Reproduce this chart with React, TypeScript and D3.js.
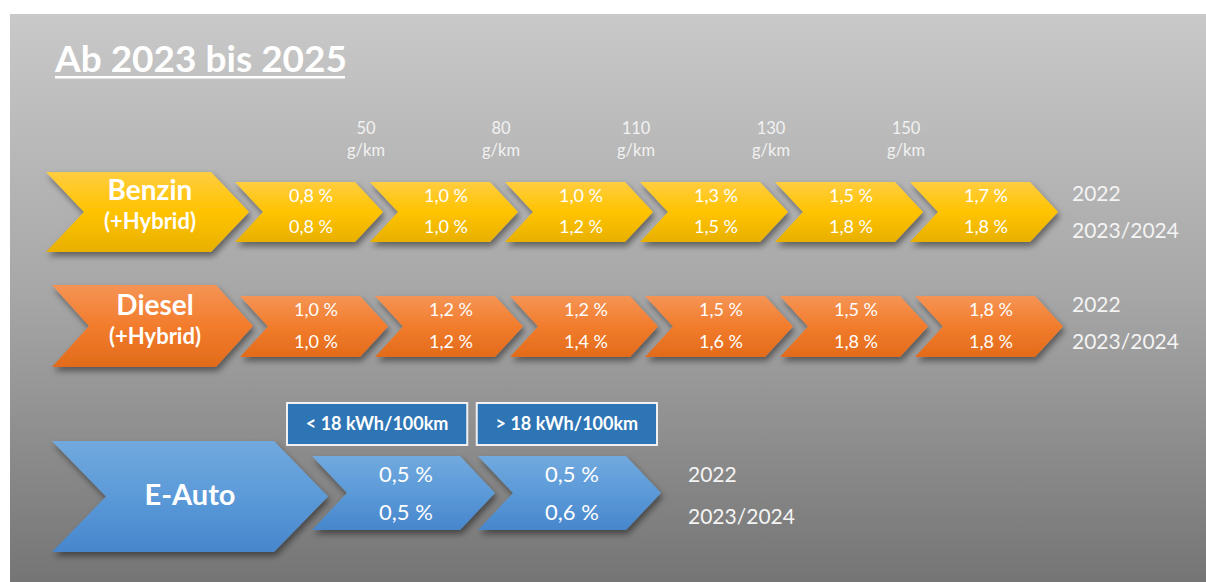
import React from 'react';
import * as d3 from 'd3';

const title = 'Ab 2023 bis 2025';
const years = ['2022', '2023/2024'];
const co2Thresholds = ['50', '80', '110', '130', '150'];
const benzin2022 = [0.8, 1.0, 1.0, 1.3, 1.5, 1.7];
const benzin2023 = [0.8, 1.0, 1.2, 1.5, 1.8, 1.8];
const diesel2022 = [1.0, 1.2, 1.2, 1.5, 1.5, 1.8];
const diesel2023 = [1.0, 1.2, 1.4, 1.6, 1.8, 1.8];
const eCategories = ['< 18 kWh/100km', '> 18 kWh/100km'];
const eAuto2022 = [0.5, 0.5];
const eAuto2023 = [0.5, 0.6];

const FONT = 'Lato, "Open Sans", sans-serif';

// German number format: 0,8 %
const de = d3.formatLocale({ decimal: ',', thousands: '.', grouping: [3], currency: ['', ' €'] });
const fmt = (v: number) => de.format('.1f')(v) + ' %';

function chevron(x: number, y: number, w: number, h: number, t: number) {
  const p = d3.path();
  p.moveTo(x, y);
  p.lineTo(x + w - t, y);
  p.lineTo(x + w, y + h / 2);
  p.lineTo(x + w - t, y + h);
  p.lineTo(x, y + h);
  p.lineTo(x + t, y + h / 2);
  p.closePath();
  return p.toString();
}

type RowProps = {
  grad: string;
  big: { x: number; y: number; w: number; h: number; t: number };
  labels: { text: string; size: number; y: number }[];
  labelX: number;
  x: d3.ScaleLinear<number, number>;
  small: { y: number; w: number; h: number; t: number; dx: number; size: number };
  top: number[];
  bottom: number[];
  valueY: [number, number];
  yearX: number;
  yearY: [number, number];
};

function Row({ grad, big, labels, labelX, x, small, top, bottom, valueY, yearX, yearY }: RowProps) {
  return (
    <g>
      {top.map((v, i) => (
        <path
          key={'c' + i}
          d={chevron(x(i), small.y, small.w, small.h, small.t)}
          fill={`url(#${grad})`}
          filter="url(#shadow)"
        />
      ))}
      <path d={chevron(big.x, big.y, big.w, big.h, big.t)} fill={`url(#${grad})`} filter="url(#shadow)" />
      {labels.map((l) => (
        <text key={l.text} x={labelX} y={l.y} textAnchor="middle" fontSize={l.size} fontWeight="bold" fill="#fff">
          {l.text}
        </text>
      ))}
      {top.map((v, i) => (
        <text key={'t' + i} x={x(i) + small.dx} y={valueY[0]} textAnchor="middle" fontSize={small.size} fill="#fff">
          {fmt(v)}
        </text>
      ))}
      {bottom.map((v, i) => (
        <text key={'b' + i} x={x(i) + small.dx} y={valueY[1]} textAnchor="middle" fontSize={small.size} fill="#fff">
          {fmt(v)}
        </text>
      ))}
      {years.map((yr, i) => (
        <text key={yr} x={yearX} y={yearY[i]} fontSize={21} fill="#f4f4f4">
          {yr}
        </text>
      ))}
    </g>
  );
}

export default function App() {
  const width = 1206;
  const height = 582;

  const benzinX = d3.scaleLinear().domain([0, benzin2022.length]).range([235, 235 + 135 * benzin2022.length]);
  const dieselX = d3.scaleLinear().domain([0, diesel2022.length]).range([240, 240 + 135 * diesel2022.length]);
  const eX = d3.scaleLinear().domain([0, eAuto2022.length]).range([312, 312 + 166 * eAuto2022.length]);
  const boxX = d3.scaleBand().domain(eCategories).range([287, 657]).paddingInner(0.05);

  return (
    <svg width={width} height={height} style={{ position: 'absolute', left: 0, top: 0 }} fontFamily={FONT}>
      <defs>
        <linearGradient id="bg" x1="0" y1="0" x2="0" y2="1">
          <stop offset="0" stopColor="#c9c9c9" />
          <stop offset="0.5" stopColor="#a6a6a6" />
          <stop offset="1" stopColor="#757575" />
        </linearGradient>
        <linearGradient id="yellow" x1="0" y1="0" x2="0" y2="1">
          <stop offset="0" stopColor="#ffcd40" />
          <stop offset="0.5" stopColor="#ffc300" />
          <stop offset="1" stopColor="#e8b000" />
        </linearGradient>
        <linearGradient id="orange" x1="0" y1="0" x2="0" y2="1">
          <stop offset="0" stopColor="#f59455" />
          <stop offset="0.5" stopColor="#f27c2c" />
          <stop offset="1" stopColor="#e26b1b" />
        </linearGradient>
        <linearGradient id="blue" x1="0" y1="0" x2="0" y2="1">
          <stop offset="0" stopColor="#72a9de" />
          <stop offset="0.5" stopColor="#5b9ad8" />
          <stop offset="1" stopColor="#4786cc" />
        </linearGradient>
        <filter id="shadow" x="-10%" y="-20%" width="130%" height="150%">
          <feDropShadow dx="2" dy="4" stdDeviation="3" floodColor="#000" floodOpacity="0.45" />
        </filter>
      </defs>

      <rect x={0} y={0} width={width} height={height} fill="#fff" />
      <rect x={10} y={14} width={width - 10} height={height - 14} fill="url(#bg)" />

      <text x={55} y={72} fontSize={37} fontWeight="bold" fill="#fff">
        {title}
      </text>
      <rect x={55} y={76} width={290} height={2.5} fill="#fff" />

      {co2Thresholds.map((c, i) => (
        <g key={c} fill="#f2f2f2" fontSize={16.5} textAnchor="middle">
          <text x={benzinX(i + 1) - 4} y={134}>{c}</text>
          <text x={benzinX(i + 1) - 4} y={156}>g/km</text>
        </g>
      ))}

      <Row
        grad="yellow"
        big={{ x: 46, y: 172, w: 203, h: 80, t: 38 }}
        labels={[
          { text: 'Benzin', size: 28, y: 200 },
          { text: '(+Hybrid)', size: 22, y: 229 },
        ]}
        labelX={150}
        x={benzinX}
        small={{ y: 182, w: 148, h: 60, t: 28, dx: 76, size: 18 }}
        top={benzin2022}
        bottom={benzin2023}
        valueY={[202, 233]}
        yearX={1072}
        yearY={[201, 238]}
      />

      <Row
        grad="orange"
        big={{ x: 52, y: 285, w: 201, h: 82, t: 37 }}
        labels={[
          { text: 'Diesel', size: 28, y: 315 },
          { text: '(+Hybrid)', size: 22, y: 344 },
        ]}
        labelX={155}
        x={dieselX}
        small={{ y: 296, w: 148, h: 61, t: 28, dx: 76, size: 18 }}
        top={diesel2022}
        bottom={diesel2023}
        valueY={[316, 348]}
        yearX={1072}
        yearY={[312, 349]}
      />

      {eCategories.map((c) => (
        <g key={c}>
          <rect
            x={boxX(c)}
            y={403}
            width={boxX.bandwidth()}
            height={42}
            fill="#2e75b6"
            stroke="#f0f0f0"
            strokeWidth={2}
          />
          <text
            x={(boxX(c) as number) + boxX.bandwidth() / 2}
            y={430}
            textAnchor="middle"
            fontSize={18}
            fontWeight="bold"
            fill="#fff"
          >
            {c}
          </text>
        </g>
      ))}

      <Row
        grad="blue"
        big={{ x: 52, y: 441, w: 276, h: 111, t: 54 }}
        labels={[{ text: 'E-Auto', size: 29, y: 505 }]}
        labelX={190}
        x={eX}
        small={{ y: 456, w: 183, h: 74, t: 35, dx: 94, size: 22 }}
        top={eAuto2022}
        bottom={eAuto2023}
        valueY={[482, 520]}
        yearX={688}
        yearY={[482, 524]}
      />
    </svg>
  );
}
